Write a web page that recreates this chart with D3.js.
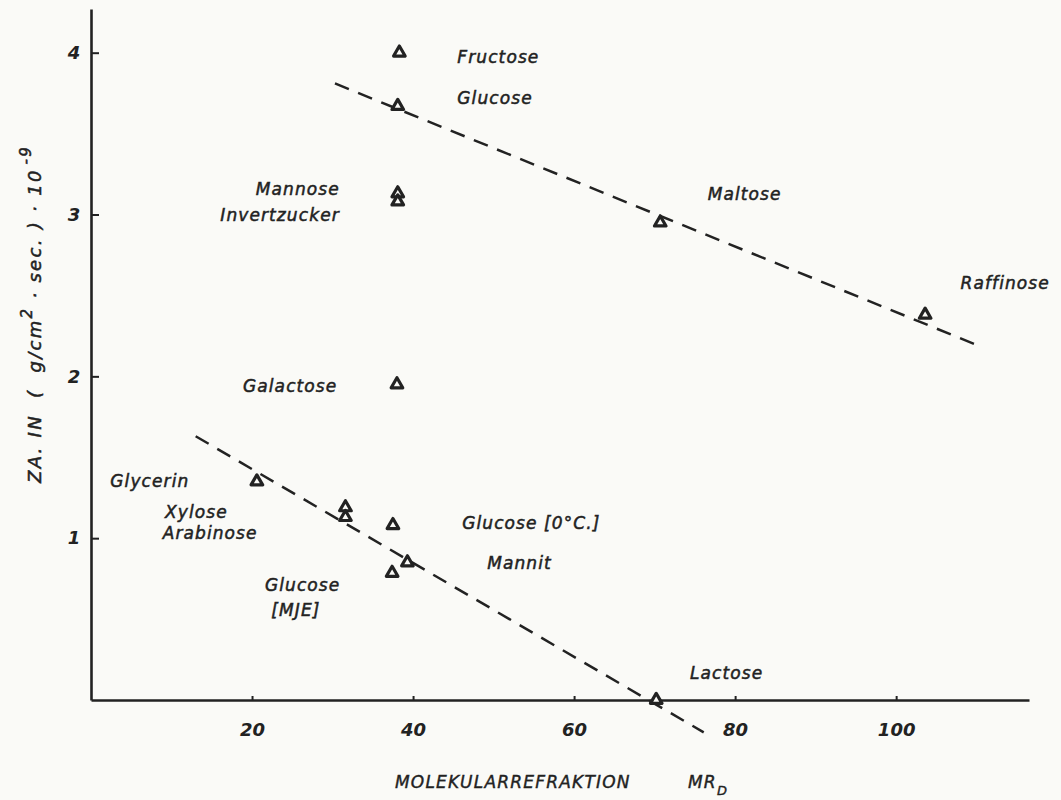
<!DOCTYPE html>
<html>
<head>
<meta charset="utf-8">
<script src="https://cdn.jsdelivr.net/npm/d3@7"></script>
<style>
  body { margin: 0; background: #fafaf7; }
  svg text { font-family: "DejaVu Sans", sans-serif; font-style: oblique; fill: #222; }
</style>
</head>
<body>
<div id="chart"></div>
<script>
// Messwerte: Molekularrefraktion MR_D gegen ZA
const names = ['Fructose', 'Glucose', 'Mannose', 'Invertzucker', 'Maltose', 'Raffinose', 'Galactose',
  'Glycerin', 'Xylose', 'Arabinose', 'Glucose [0°C.]', 'Mannit', 'Glucose [MJE]', 'Lactose']
const mrValues = [38.3, 38.1, 38.1, 38.1, 70.7, 103.6, 38.0, 20.6, 31.6, 31.6, 37.5, 39.3, 37.4, 70.2]
const zaValues = [4.0, 3.67, 3.13, 3.08, 2.95, 2.38, 1.95, 1.35, 1.19, 1.13, 1.08, 0.85, 0.785, 0.0]

// Ausgleichsgeraden (gestrichelt)
const upperLine = [[30.3, 3.81], [110.7, 2.18]]
const lowerLine = [[13.0, 1.63], [76.1, -0.2]]

const xTicks = [20, 40, 60, 80, 100]
const yTicks = [1, 2, 3, 4]

// Beschriftungen: [text, x-Wert, y-Wert, anchor]
const labels = [
  ['Fructose', 45.5, 3.975, 'start'],
  ['Glucose', 45.5, 3.72, 'start'],
  ['Mannose', 30.9, 3.16, 'end'],
  ['Invertzucker', 30.9, 3.0, 'end'],
  ['Maltose', 76.6, 3.13, 'start'],
  ['Raffinose', 108.0, 2.58, 'start'],
  ['Galactose', 30.6, 1.94, 'end'],
  ['Glycerin', 2.4, 1.355, 'start'],
  ['Xylose', 9.2, 1.16, 'start'],
  ['Arabinose', 8.9, 1.03, 'start'],
  ['Glucose [0°C.]', 46.1, 1.094, 'start'],
  ['Mannit', 49.2, 0.847, 'start'],
  ['Glucose', 21.6, 0.71, 'start'],
  ['[MJE]', 22.4, 0.556, 'start'],
  ['Lactose', 74.4, 0.167, 'start']
]

const width = 1061, height = 800
const ink = '#222'

const svg = d3.select('#chart')
  .append('svg')
  .attr('width', width)
  .attr('height', height)

const x = d3.scaleLinear().domain([0, 116.5]).range([91, 1029])
const y = d3.scaleLinear().domain([0, 4.27]).range([700, 9])

// x-Achse
const xAxis = svg.append('g')
  .attr('transform', 'translate(0,' + y(0) + ')')
  .call(d3.axisBottom(x).tickValues(xTicks).tickSizeInner(-4).tickSizeOuter(0).tickPadding(23))
xAxis.select('.domain').attr('stroke', ink).attr('stroke-width', 2.6)
xAxis.selectAll('.tick line').attr('stroke', ink).attr('stroke-width', 2)
xAxis.selectAll('.tick text')
  .attr('font-size', 18).attr('font-weight', 700)
  .style('font-family', '"DejaVu Sans", sans-serif').style('font-style', 'oblique')
  .attr('fill', ink)

// y-Achse
const yAxis = svg.append('g')
  .attr('transform', 'translate(' + x(0) + ',0)')
  .call(d3.axisLeft(y).tickValues(yTicks).tickFormat(d3.format('d'))
    .tickSizeInner(-8).tickSizeOuter(0).tickPadding(17))
yAxis.select('.domain').attr('stroke', ink).attr('stroke-width', 2.6)
yAxis.selectAll('.tick line').attr('stroke', ink).attr('stroke-width', 2)
yAxis.selectAll('.tick text')
  .attr('text-anchor', 'middle')
  .attr('font-size', 18).attr('font-weight', 700)
  .style('font-family', '"DejaVu Sans", sans-serif').style('font-style', 'oblique')
  .attr('fill', ink)

// gestrichelte Geraden
const line = d3.line().x(d => x(d[0])).y(d => y(d[1]))
;[upperLine, lowerLine].forEach(l => {
  svg.append('path')
    .attr('d', line(l))
    .attr('fill', 'none')
    .attr('stroke', ink)
    .attr('stroke-width', 2.5)
    .attr('stroke-dasharray', '15,10')
})

// Messpunkte als offene Dreiecke
const tri = d3.symbol().type(d3.symbolTriangle).size(58)
svg.append('g')
  .selectAll('path')
  .data(mrValues.map((v, i) => ({ mr: v, za: zaValues[i], name: names[i] })))
  .enter()
  .append('path')
  .attr('d', tri)
  .attr('transform', d => 'translate(' + x(d.mr) + ',' + y(d.za) + ')')
  .attr('fill', '#fafaf7')
  .attr('stroke', ink)
  .attr('stroke-width', 3.2)
  .attr('stroke-linejoin', 'round')

// Namen
svg.append('g')
  .selectAll('text')
  .data(labels)
  .enter()
  .append('text')
  .attr('x', d => x(d[1]))
  .attr('y', d => y(d[2]))
  .attr('text-anchor', d => d[3])
  .attr('dy', '0.36em')
  .attr('font-size', 17)
  .attr('letter-spacing', 1.1)
  .attr('stroke', ink)
  .attr('stroke-width', 0.5)
  .text(d => d[0])

// Achsentitel
svg.append('text')
  .attr('transform', 'translate(41,314) rotate(-90)')
  .attr('text-anchor', 'middle')
  .attr('font-size', 18)
  .attr('letter-spacing', 2.3)
  .attr('stroke', ink)
  .attr('stroke-width', 0.5)
  .html('ZA. IN&#160;&#160;(&#160;&#160;g/cm<tspan dy="-9" font-size="15">2</tspan><tspan dy="9">&#160;·&#160;sec.</tspan>&#160;)&#160;·&#160;10<tspan dy="-10" font-size="15">&#8202;-9</tspan>')

svg.append('text')
  .attr('x', 395)
  .attr('y', 788)
  .attr('font-size', 17)
  .attr('letter-spacing', 1.2)
  .attr('stroke', ink)
  .attr('stroke-width', 0.4)
  .html('MOLEKULARREFRAKTION<tspan x="688">MR</tspan><tspan dy="7" font-size="13">D</tspan>')
</script>
</body>
</html>
